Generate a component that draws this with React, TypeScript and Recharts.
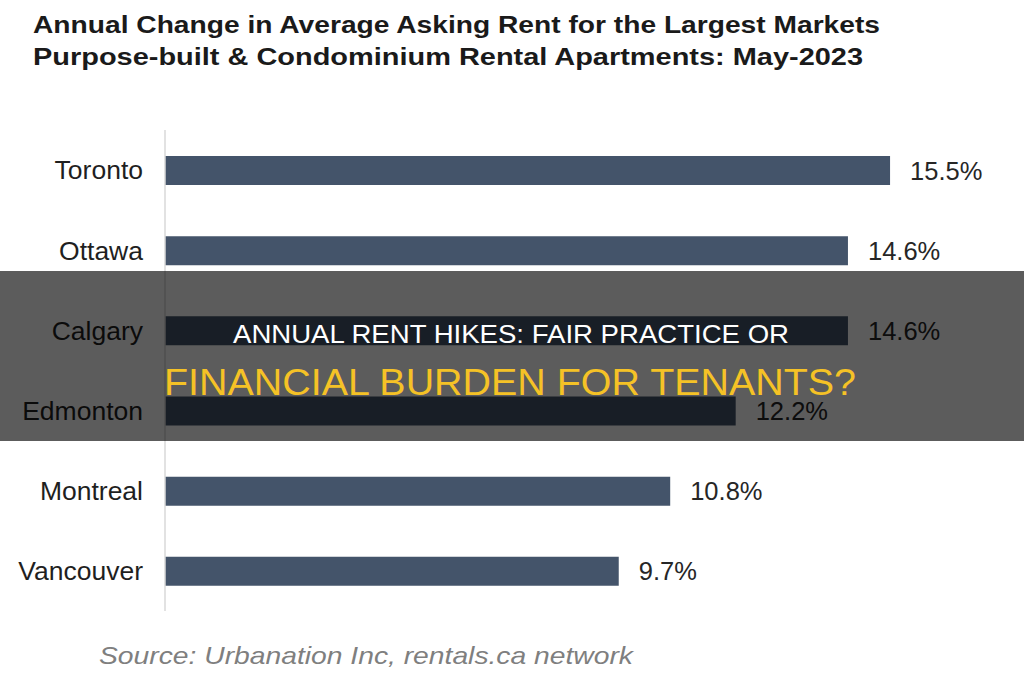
import { BarChart, Bar, XAxis, YAxis, LabelList } from "recharts";

// values (% change, May-2023)
const cities = ["Toronto", "Ottawa", "Calgary", "Edmonton", "Montreal", "Vancouver"];
const changes = [15.5, 14.6, 14.6, 12.2, 10.8, 9.7];

const titleLines = [
  "Annual Change in Average Asking Rent for the Largest Markets",
  "Purpose-built & Condominium Rental Apartments: May-2023",
];
const headline = ["ANNUAL RENT HIKES: FAIR PRACTICE OR", "FINANCIAL BURDEN FOR TENANTS?"];
const source = "Source: Urbanation Inc, rentals.ca network";

const W = 1024;
const H = 680;
const font = "'Liberation Sans', Arial, sans-serif";

export default function App() {
  const data = cities.map((city, i) => ({ city, value: changes[i] }));

  return (
    <div
      style={{
        position: "absolute",
        left: 0,
        top: 0,
        width: W,
        height: H,
        background: "#fff",
        overflow: "hidden",
      }}
    >
      {/* title + source */}
      <svg width={W} height={H} style={{ position: "absolute", left: 0, top: 0 }}>
        <text
          x={33}
          y={33}
          fontFamily={font}
          fontWeight="bold"
          fontSize={23}
          fill="#1a1a1a"
          textLength={847}
          lengthAdjust="spacingAndGlyphs"
        >
          {titleLines[0]}
        </text>
        <text
          x={33}
          y={65}
          fontFamily={font}
          fontWeight="bold"
          fontSize={23}
          fill="#1a1a1a"
          textLength={830}
          lengthAdjust="spacingAndGlyphs"
        >
          {titleLines[1]}
        </text>
        <text
          x={99}
          y={664}
          fontFamily={font}
          fontStyle="italic"
          fontSize={24}
          fill="#7f7f7f"
          textLength={534}
          lengthAdjust="spacingAndGlyphs"
        >
          {source}
        </text>
      </svg>

      <div style={{ position: "absolute", left: 0, top: 0 }}>
        <BarChart
          width={W}
          height={H}
          data={data}
          layout="vertical"
          margin={{ top: 130, right: 17, bottom: 69, left: 0 }}
          barSize={29}
        >
          <XAxis type="number" domain={[0, 18]} hide />
          <YAxis
            type="category"
            dataKey="city"
            width={165}
            tickLine={false}
            tickSize={0}
            tickMargin={22}
            axisLine={{ stroke: "#d9d9d9", strokeWidth: 1.5 }}
            tick={{ fontSize: 26.5, fill: "#1f1f1f", fontFamily: font }}
          />
          <Bar dataKey="value" fill="#44546A" isAnimationActive={false}>
            <LabelList
              dataKey="value"
              position="right"
              offset={20}
              formatter={(v: number) => `${v.toFixed(1)}%`}
              style={{ fontSize: 25.5, fill: "#262626", fontFamily: font }}
            />
          </Bar>
        </BarChart>
      </div>

      {/* headline band over the chart */}
      <svg width={W} height={H} style={{ position: "absolute", left: 0, top: 0 }}>
        <rect x={0} y={271} width={W} height={170} fill="rgba(0,0,0,0.64)" />
        <text
          x={233}
          y={343}
          fontFamily={font}
          fontSize={26}
          fill="#ffffff"
          textLength={556}
          lengthAdjust="spacingAndGlyphs"
        >
          {headline[0]}
        </text>
        <text
          x={164}
          y={395}
          fontFamily={font}
          fontSize={36}
          fill="#f5c226"
          textLength={692}
          lengthAdjust="spacingAndGlyphs"
        >
          {headline[1]}
        </text>
      </svg>
    </div>
  );
}
